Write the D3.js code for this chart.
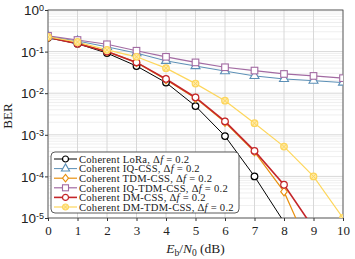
<!DOCTYPE html>
<html>
<head>
<meta charset="utf-8">
<script src="https://cdnjs.cloudflare.com/ajax/libs/d3/7.8.5/d3.min.js"></script>
<style>
  body { margin: 0; background: #fff; }
  svg { font-family: "Liberation Serif", "DejaVu Serif", serif; }
</style>
</head>
<body>
<div id="chart"></div>
<script>
// Eb/N0 values (dB)
var snr = [0, 1, 2, 3, 4, 5, 6, 7, 8, 9, 10];

// BER per scheme
var berLoRa   = [0.215, 0.155, 0.092, 0.045, 0.018, 0.0049, 9.3e-4, 1.0e-4, 8e-6];
var berIQ     = [0.23, 0.18, 0.13, 0.092, 0.06, 0.045, 0.034, 0.026, 0.022, 0.020, 0.018];
var berTDM    = [0.22, 0.16, 0.1, 0.055, 0.021, 0.0076, 0.0020, 3.9e-4, 4.3e-5, 1.1e-6];
var berIQTDM  = [0.24, 0.19, 0.15, 0.105, 0.075, 0.055, 0.042, 0.035, 0.029, 0.026, 0.023];
var berDM     = [0.22, 0.155, 0.1, 0.055, 0.022, 0.0079, 0.0021, 4.1e-4, 6.3e-5, 5.7e-6];
var berDMTDM  = [0.225, 0.17, 0.11, 0.075, 0.04, 0.017, 0.0066, 0.0019, 5.2e-4, 1.0e-4, 1.0e-5];

var seriesNames = [
  "Coherent LoRa, \u0394f = 0.2",
  "Coherent IQ-CSS, \u0394f = 0.2",
  "Coherent TDM-CSS, \u0394f = 0.2",
  "Coherent IQ-TDM-CSS, \u0394f = 0.2",
  "Coherent DM-CSS, \u0394f = 0.2",
  "Coherent DM-TDM-CSS, \u0394f = 0.2"
];
var seriesData = [berLoRa, berIQ, berTDM, berIQTDM, berDM, berDMTDM];
var colors = ["#000000", "#5b8fb6", "#e8900f", "#a26aa2", "#c4262a", "#fdd65c"];
var markers = ["circle", "triangle", "diamond", "square", "circle", "otimes"];
var widths = [1, 1, 1.2, 1.2, 1.6, 1.2];

var xTicks = [0, 1, 2, 3, 4, 5, 6, 7, 8, 9, 10];
var yTickExp = [0, -1, -2, -3, -4, -5];

var W = 355, H = 259;
var m = {left: 48, right: 12, top: 10, bottom: 41};

var svg = d3.select("#chart").append("svg").attr("width", W).attr("height", H);

var x = d3.scaleLinear().domain([0, 10]).range([m.left, W - m.right]);
var y = d3.scaleLog().domain([1e-5, 1]).range([H - m.bottom, m.top]);

// clip for plot area
svg.append("clipPath").attr("id", "clip").append("rect")
  .attr("x", m.left).attr("y", m.top)
  .attr("width", W - m.left - m.right).attr("height", H - m.top - m.bottom);

// minor grid
var minors = [];
for (var e = -5; e < 0; e++) {
  for (var k = 2; k <= 9; k++) minors.push(k * Math.pow(10, e));
}
var grid = svg.append("g");
grid.selectAll(".minor").data(minors).enter().append("line")
  .attr("x1", m.left).attr("x2", W - m.right)
  .attr("y1", function (d) { return y(d); }).attr("y2", function (d) { return y(d); })
  .attr("stroke", "#e4e4e4").attr("stroke-width", 0.6);
grid.selectAll(".major").data(yTickExp).enter().append("line")
  .attr("x1", m.left).attr("x2", W - m.right)
  .attr("y1", function (d) { return y(Math.pow(10, d)); })
  .attr("y2", function (d) { return y(Math.pow(10, d)); })
  .attr("stroke", "#d8d8d8").attr("stroke-width", 1);
grid.selectAll(".vx").data(xTicks).enter().append("line")
  .attr("y1", m.top).attr("y2", H - m.bottom)
  .attr("x1", function (d) { return x(d); }).attr("x2", function (d) { return x(d); })
  .attr("stroke", "#d8d8d8").attr("stroke-width", 1);

// axes
var xAxis = d3.axisBottom(x).tickValues(xTicks).tickSize(3).tickFormat(d3.format("d"));
var gx = svg.append("g").attr("transform", "translate(0," + (H - m.bottom) + ")").call(xAxis);
gx.select(".domain").remove();
gx.selectAll("line").attr("stroke", "#333");
gx.selectAll("text").attr("font-size", 13).attr("font-family", "Liberation Serif, serif").attr("fill", "#222").attr("dy", "0.85em");

var gy = svg.append("g").attr("transform", "translate(" + m.left + ",0)")
  .call(d3.axisLeft(y).tickValues(yTickExp.map(function (d) { return Math.pow(10, d); })).tickSize(3).tickFormat(""));
gy.select(".domain").remove();
gy.selectAll("line").attr("stroke", "#333");
gy.selectAll(".tick").each(function (d) {
  var t = d3.select(this).append("text").attr("x", -4).attr("dy", "0.35em")
    .attr("text-anchor", "end").attr("fill", "#222").attr("font-size", 13.5);
  t.append("tspan").text("10");
  t.append("tspan").attr("dy", "-0.45em").attr("font-size", 9).text(Math.round(Math.log10(d)));
});

svg.append("rect").attr("x", m.left).attr("y", m.top)
  .attr("width", W - m.left - m.right).attr("height", H - m.top - m.bottom)
  .attr("fill", "none").attr("stroke", "#444").attr("stroke-width", 0.8);

// axis titles
svg.append("text").attr("transform", "translate(12," + ((m.top + H - m.bottom) / 2 + 2) + ") rotate(-90)")
  .attr("text-anchor", "middle").attr("font-size", 13).attr("fill", "#222").text("BER");
var xl = svg.append("text").attr("x", (m.left + W - m.right) / 2).attr("y", H - 6)
  .attr("text-anchor", "middle").attr("font-size", 13.5).attr("fill", "#222");
xl.append("tspan").attr("font-style", "italic").text("E");
xl.append("tspan").attr("font-size", 9.5).attr("dy", 3).text("b");
xl.append("tspan").attr("dy", -3).text("/");
xl.append("tspan").attr("font-style", "italic").text("N");
xl.append("tspan").attr("font-size", 9.5).attr("dy", 3).text("0");
xl.append("tspan").attr("dy", -3).text(" (dB)");

function drawMarker(g, type, color, r) {
  if (type === "circle") {
    g.append("circle").attr("r", r).attr("fill", "#fff").attr("stroke", color).attr("stroke-width", 1.2);
  } else if (type === "triangle") {
    g.append("path").attr("d", d3.symbol(d3.symbolTriangle, r * r * 3.2)()).attr("fill", "#fff").attr("stroke", color).attr("stroke-width", 1.1);
  } else if (type === "diamond") {
    g.append("path").attr("d", "M0," + (-r * 1.25) + "L" + r + ",0L0," + (r * 1.25) + "L" + (-r) + ",0Z")
      .attr("fill", "#fff").attr("stroke", color).attr("stroke-width", 1.1);
  } else if (type === "square") {
    g.append("rect").attr("x", -r).attr("y", -r).attr("width", 2 * r).attr("height", 2 * r)
      .attr("fill", "#fff").attr("stroke", color).attr("stroke-width", 1.1);
  } else if (type === "otimes") {
    g.append("circle").attr("r", r).attr("fill", "#fde9a8").attr("stroke", color).attr("stroke-width", 1.2);
    var q = r * 0.7;
    g.append("path").attr("d", "M" + -q + "," + -q + "L" + q + "," + q + "M" + -q + "," + q + "L" + q + "," + -q)
      .attr("stroke", color).attr("stroke-width", 1);
  }
}

var plot = svg.append("g").attr("clip-path", "url(#clip)");
var line = d3.line().x(function (d, i) { return x(snr[i]); }).y(function (d) { return y(d); });

seriesData.forEach(function (data, s) {
  plot.append("path").datum(data).attr("d", line).attr("fill", "none")
    .attr("stroke", colors[s]).attr("stroke-width", widths[s]);
});
seriesData.forEach(function (data, s) {
  data.forEach(function (v, i) {
    if (v < 1e-5) return;
    var g = plot.append("g").attr("transform", "translate(" + x(snr[i]) + "," + y(v) + ")");
    drawMarker(g, markers[s], colors[s], 3.3);
  });
});

// legend
var lg = svg.append("g").attr("transform", "translate(51,152)");
lg.append("rect").attr("width", 188).attr("height", 61).attr("rx", 4)
  .attr("fill", "#fff").attr("stroke", "#333").attr("stroke-width", 0.8);
seriesNames.forEach(function (name, s) {
  var yy = 7 + s * 9.6;
  lg.append("line").attr("x1", 3).attr("x2", 26).attr("y1", yy).attr("y2", yy)
    .attr("stroke", colors[s]).attr("stroke-width", widths[s]);
  drawMarker(lg.append("g").attr("transform", "translate(14.5," + yy + ")"), markers[s], colors[s], 3);
  var parts = name.split("\u0394f");
  var t = lg.append("text").attr("x", 28).attr("y", yy).attr("dy", "0.35em")
    .attr("font-size", 10.6).attr("letter-spacing", 0.25).attr("fill", "#222");
  t.append("tspan").text(parts[0] + "\u0394");
  t.append("tspan").attr("font-style", "italic").text("f");
  t.append("tspan").text(parts[1]);
});
</script>
</body>
</html>
